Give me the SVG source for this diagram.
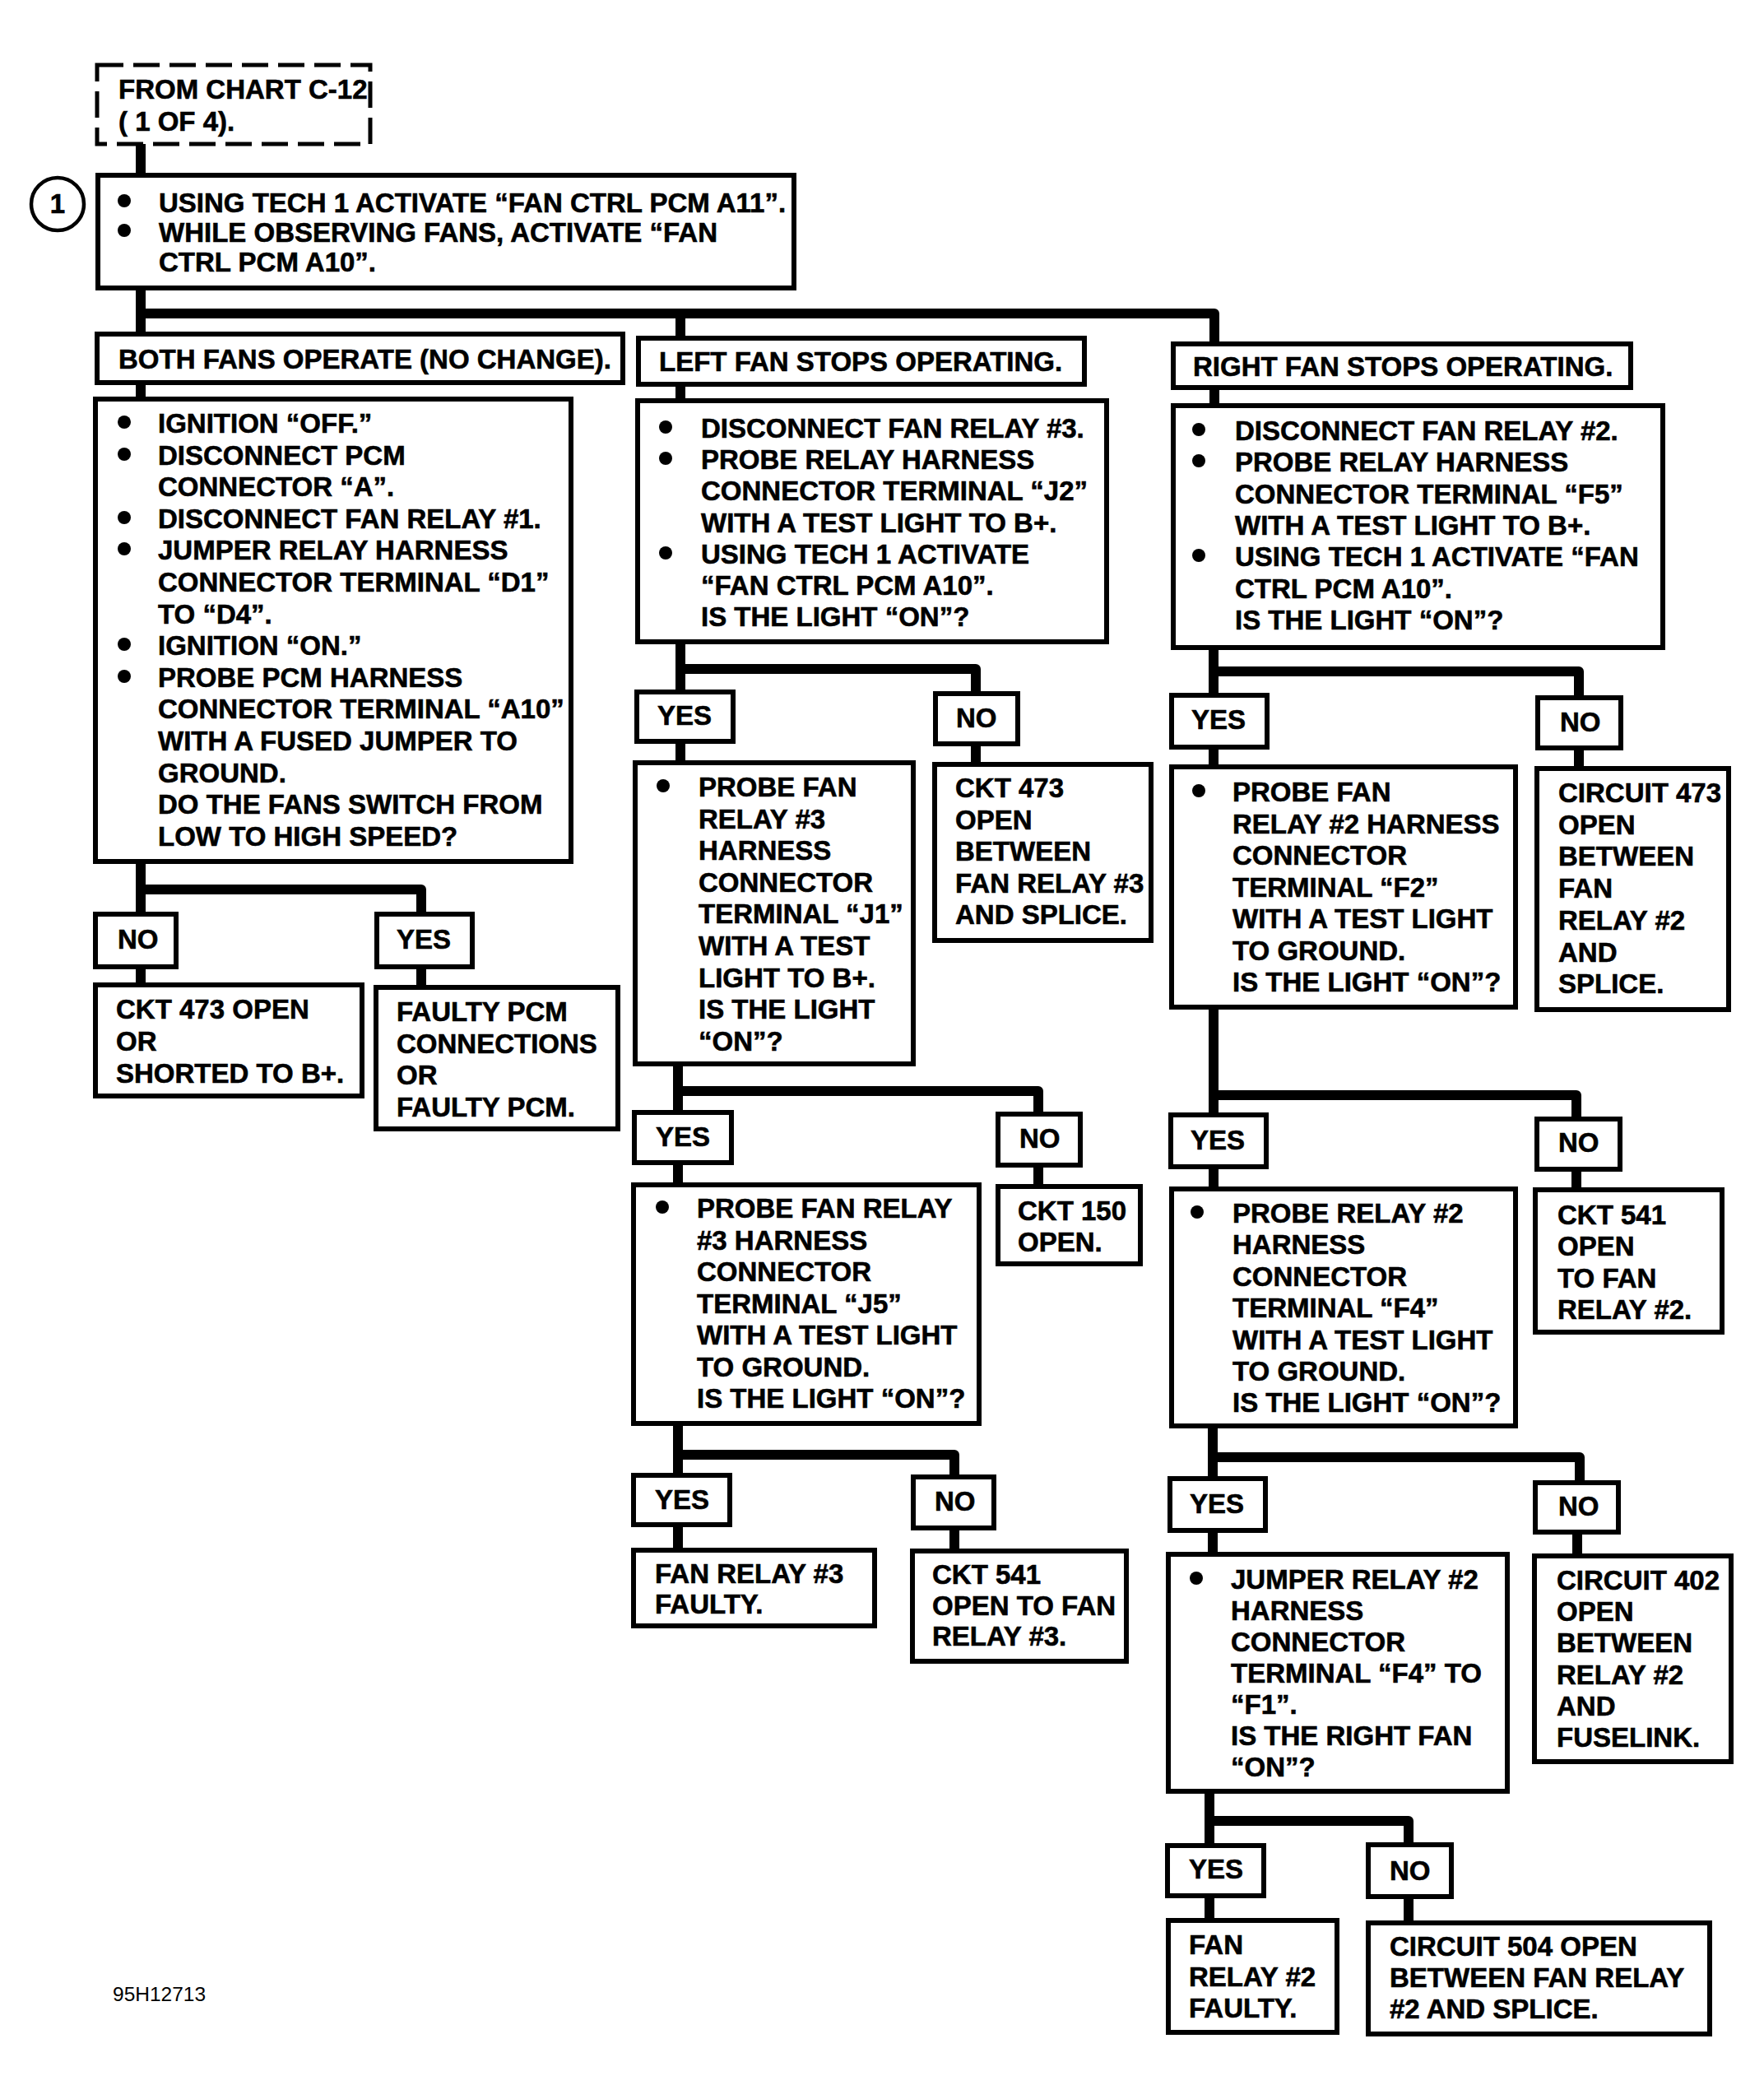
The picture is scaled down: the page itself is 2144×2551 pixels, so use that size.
<svg xmlns="http://www.w3.org/2000/svg" width="2144" height="2551" viewBox="0 0 2144 2551">
<style>
.bx{fill:#fff;stroke:#000;stroke-width:6}
.dash{fill:#fff;stroke:#000;stroke-width:5;stroke-dasharray:32 12}
.c{fill:none;stroke:#000;stroke-width:12;stroke-linejoin:round;stroke-linecap:butt}
.t{font-family:"Liberation Sans",Arial,Helvetica,sans-serif;font-weight:bold;font-size:33px;fill:#000;stroke:#000;stroke-width:0.6}
.lbl{font-family:"Liberation Sans",Arial,Helvetica,sans-serif;font-size:24.5px;fill:#000}
.b{fill:#000}
</style>
<rect width="2144" height="2551" fill="#fff"/>

<g id="connectors">
<path class="c" d="M171,175 V213"/>
<path class="c" d="M171,350 V406 M171,381 H1476 V418 M827,381 V411"/>
<path class="c" d="M171,465 V485 M827,467 V487 M1476,471 V493"/>
<path class="c" d="M171,1047 V1111 M171,1081 H512 V1111 M171,1175 V1197 M512,1175 V1200"/>
<path class="c" d="M827,780 V841 M827,813 H1186 V843 M827,901 V927 M1186,904 V929"/>
<path class="c" d="M824,1293 V1352 M824,1326 H1262 V1354 M824,1413 V1440 M1262,1416 V1442"/>
<path class="c" d="M824,1730 V1793 M824,1768 H1160 V1795 M824,1853 V1884 M1160,1857 V1885"/>
<path class="c" d="M1475,787 V845 M1475,816 H1919 V848 M1475,908 V932 M1919,909 V934"/>
<path class="c" d="M1475,1224 V1355 M1475,1331 H1916 V1360 M1475,1418 V1445 M1916,1421 V1446"/>
<path class="c" d="M1474,1733 V1797 M1474,1771 H1920 V1802 M1474,1860 V1889 M1917,1862 V1891"/>
<path class="c" d="M1470,2177 V2243 M1470,2213 H1712 V2242 M1470,2304 V2334 M1712,2305 V2337"/>
</g>

<g id="start">
<rect class="dash" x="118" y="79" width="332" height="96"/>
<text class="t" x="144" y="120">FROM CHART C-12</text>
<text class="t" x="144" y="159">( 1 OF 4).</text>
</g>

<g id="marker1">
<circle cx="70" cy="248" r="32" fill="#fff" stroke="#000" stroke-width="4.5"/>
<text class="t" x="70" y="259" text-anchor="middle">1</text>
</g>

<g id="step1">
<rect class="bx" x="119" y="213" width="846" height="137"/>
<circle class="b" cx="151" cy="244" r="8"/>
<circle class="b" cx="151" cy="280" r="8"/>
<text class="t" x="193" y="258">USING TECH 1 ACTIVATE “FAN CTRL PCM A11”.</text>
<text class="t" x="193" y="294">WHILE OBSERVING FANS, ACTIVATE “FAN</text>
<text class="t" x="193" y="330">CTRL PCM A10”.</text>
</g>

<g id="both">
<rect class="bx" x="118" y="406" width="639" height="59"/>
<text class="t" x="144" y="448">BOTH FANS OPERATE (NO CHANGE).</text>
</g>

<g id="left">
<rect class="bx" x="776" y="411" width="542" height="56"/>
<text class="t" x="801" y="451">LEFT FAN STOPS OPERATING.</text>
</g>

<g id="right">
<rect class="bx" x="1426" y="418" width="556" height="53"/>
<text class="t" x="1450" y="457">RIGHT FAN STOPS OPERATING.</text>
</g>

<g id="c1box">
<rect class="bx" x="116" y="485" width="578" height="562"/>
<circle class="b" cx="151" cy="513" r="8"/>
<circle class="b" cx="151" cy="552" r="8"/>
<circle class="b" cx="151" cy="629" r="8"/>
<circle class="b" cx="151" cy="667" r="8"/>
<circle class="b" cx="151" cy="783" r="8"/>
<circle class="b" cx="151" cy="822" r="8"/>
<text class="t" x="192" y="526">IGNITION “OFF.”
<tspan x="192" dy="38.6">DISCONNECT PCM</tspan>
<tspan x="192" dy="38.6">CONNECTOR “A”.</tspan>
<tspan x="192" dy="38.6">DISCONNECT FAN RELAY #1.</tspan>
<tspan x="192" dy="38.6">JUMPER RELAY HARNESS</tspan>
<tspan x="192" dy="38.6">CONNECTOR TERMINAL “D1”</tspan>
<tspan x="192" dy="38.6">TO “D4”.</tspan>
<tspan x="192" dy="38.6">IGNITION “ON.”</tspan>
<tspan x="192" dy="38.6">PROBE PCM HARNESS</tspan>
<tspan x="192" dy="38.6">CONNECTOR TERMINAL “A10”</tspan>
<tspan x="192" dy="38.6">WITH A FUSED JUMPER TO</tspan>
<tspan x="192" dy="38.6">GROUND.</tspan>
<tspan x="192" dy="38.6">DO THE FANS SWITCH FROM</tspan>
<tspan x="192" dy="38.6">LOW TO HIGH SPEED?</tspan></text>
</g>

<g id="c1no">
<rect class="bx" x="116" y="1111" width="98" height="64"/>
<text class="t" x="143" y="1153">NO</text>
</g>
<g id="c1yes">
<rect class="bx" x="458" y="1111" width="116" height="64"/>
<text class="t" x="482" y="1153">YES</text>
</g>
<g id="c1ckt">
<rect class="bx" x="116" y="1197" width="324" height="135"/>
<text class="t" x="141" y="1238">CKT 473 OPEN<tspan x="141" dy="39">OR</tspan><tspan x="141" dy="39">SHORTED TO B+.</tspan></text>
</g>
<g id="c1faulty">
<rect class="bx" x="457" y="1200" width="294" height="172"/>
<text class="t" x="482" y="1241">FAULTY PCM<tspan x="482" dy="38.7">CONNECTIONS</tspan><tspan x="482" dy="38.7">OR</tspan><tspan x="482" dy="38.7">FAULTY PCM.</tspan></text>
</g>

<g id="m2">
<rect class="bx" x="775" y="487" width="570" height="293"/>
<circle class="b" cx="809" cy="519" r="8"/>
<circle class="b" cx="809" cy="557" r="8"/>
<circle class="b" cx="809" cy="672" r="8"/>
<text class="t" x="852" y="532">DISCONNECT FAN RELAY #3.<tspan x="852" dy="38.2">PROBE RELAY HARNESS</tspan><tspan x="852" dy="38.2">CONNECTOR TERMINAL “J2”</tspan><tspan x="852" dy="38.2">WITH A TEST LIGHT TO B+.</tspan><tspan x="852" dy="38.2">USING TECH 1 ACTIVATE</tspan><tspan x="852" dy="38.2">“FAN CTRL PCM A10”.</tspan><tspan x="852" dy="38.2">IS THE LIGHT “ON”?</tspan></text>
</g>
<g id="myes1">
<rect class="bx" x="774" y="841" width="117" height="60"/>
<text class="t" x="799" y="881">YES</text>
</g>
<g id="mno1">
<rect class="bx" x="1137" y="843" width="100" height="61"/>
<text class="t" x="1162" y="884">NO</text>
</g>
<g id="m3">
<rect class="bx" x="772" y="927" width="338" height="366"/>
<circle class="b" cx="806" cy="955" r="8"/>
<text class="t" x="849" y="968">PROBE FAN<tspan x="849" dy="38.6">RELAY #3</tspan><tspan x="849" dy="38.6">HARNESS</tspan><tspan x="849" dy="38.6">CONNECTOR</tspan><tspan x="849" dy="38.6">TERMINAL “J1”</tspan><tspan x="849" dy="38.6">WITH A TEST</tspan><tspan x="849" dy="38.6">LIGHT TO B+.</tspan><tspan x="849" dy="38.6">IS THE LIGHT</tspan><tspan x="849" dy="38.6">“ON”?</tspan></text>
</g>
<g id="mckt473">
<rect class="bx" x="1136" y="929" width="263" height="214"/>
<text class="t" x="1161" y="969">CKT 473<tspan x="1161" dy="38.6">OPEN</tspan><tspan x="1161" dy="38.6">BETWEEN</tspan><tspan x="1161" dy="38.6">FAN RELAY #3</tspan><tspan x="1161" dy="38.6">AND SPLICE.</tspan></text>
</g>
<g id="myes2">
<rect class="bx" x="771" y="1352" width="118" height="61"/>
<text class="t" x="797" y="1393">YES</text>
</g>
<g id="mno2">
<rect class="bx" x="1213" y="1354" width="100" height="62"/>
<text class="t" x="1239" y="1395">NO</text>
</g>
<g id="m4">
<rect class="bx" x="770" y="1440" width="420" height="290"/>
<circle class="b" cx="805" cy="1467" r="8"/>
<text class="t" x="847" y="1480">PROBE FAN RELAY<tspan x="847" dy="38.5">#3 HARNESS</tspan><tspan x="847" dy="38.5">CONNECTOR</tspan><tspan x="847" dy="38.5">TERMINAL “J5”</tspan><tspan x="847" dy="38.5">WITH A TEST LIGHT</tspan><tspan x="847" dy="38.5">TO GROUND.</tspan><tspan x="847" dy="38.5">IS THE LIGHT “ON”?</tspan></text>
</g>
<g id="mckt150">
<rect class="bx" x="1213" y="1442" width="173" height="94"/>
<text class="t" x="1237" y="1483">CKT 150<tspan x="1237" dy="38">OPEN.</tspan></text>
</g>
<g id="myes3">
<rect class="bx" x="770" y="1793" width="117" height="60"/>
<text class="t" x="796" y="1834">YES</text>
</g>
<g id="mno3">
<rect class="bx" x="1110" y="1795" width="98" height="62"/>
<text class="t" x="1136" y="1836">NO</text>
</g>
<g id="mfaulty">
<rect class="bx" x="770" y="1884" width="293" height="92"/>
<text class="t" x="796" y="1924">FAN RELAY #3<tspan x="796" dy="37">FAULTY.</tspan></text>
</g>
<g id="mckt541">
<rect class="bx" x="1109" y="1885" width="260" height="134"/>
<text class="t" x="1133" y="1925">CKT 541<tspan x="1133" dy="37.5">OPEN TO FAN</tspan><tspan x="1133" dy="37.5">RELAY #3.</tspan></text>
</g>

<g id="r2">
<rect class="bx" x="1426" y="493" width="595" height="294"/>
<circle class="b" cx="1457" cy="522" r="8"/>
<circle class="b" cx="1457" cy="560" r="8"/>
<circle class="b" cx="1457" cy="675" r="8"/>
<text class="t" x="1501" y="535">DISCONNECT FAN RELAY #2.<tspan x="1501" dy="38.3">PROBE RELAY HARNESS</tspan><tspan x="1501" dy="38.3">CONNECTOR TERMINAL “F5”</tspan><tspan x="1501" dy="38.3">WITH A TEST LIGHT TO B+.</tspan><tspan x="1501" dy="38.3">USING TECH 1 ACTIVATE “FAN</tspan><tspan x="1501" dy="38.3">CTRL PCM A10”.</tspan><tspan x="1501" dy="38.3">IS THE LIGHT “ON”?</tspan></text>
</g>
<g id="ryes1">
<rect class="bx" x="1424" y="845" width="116" height="63"/>
<text class="t" x="1448" y="886">YES</text>
</g>
<g id="rno1">
<rect class="bx" x="1869" y="848" width="101" height="61"/>
<text class="t" x="1896" y="889">NO</text>
</g>
<g id="r3">
<rect class="bx" x="1424" y="932" width="418" height="292"/>
<circle class="b" cx="1457" cy="961" r="8"/>
<text class="t" x="1498" y="974">PROBE FAN<tspan x="1498" dy="38.5">RELAY #2 HARNESS</tspan><tspan x="1498" dy="38.5">CONNECTOR</tspan><tspan x="1498" dy="38.5">TERMINAL “F2”</tspan><tspan x="1498" dy="38.5">WITH A TEST LIGHT</tspan><tspan x="1498" dy="38.5">TO GROUND.</tspan><tspan x="1498" dy="38.5">IS THE LIGHT “ON”?</tspan></text>
</g>
<g id="rc473">
<rect class="bx" x="1868" y="934" width="233" height="293"/>
<text class="t" x="1894" y="975">CIRCUIT 473<tspan x="1894" dy="38.7">OPEN</tspan><tspan x="1894" dy="38.7">BETWEEN</tspan><tspan x="1894" dy="38.7">FAN</tspan><tspan x="1894" dy="38.7">RELAY #2</tspan><tspan x="1894" dy="38.7">AND</tspan><tspan x="1894" dy="38.7">SPLICE.</tspan></text>
</g>
<g id="ryes2">
<rect class="bx" x="1423" y="1355" width="116" height="63"/>
<text class="t" x="1447" y="1397">YES</text>
</g>
<g id="rno2">
<rect class="bx" x="1868" y="1360" width="101" height="61"/>
<text class="t" x="1894" y="1400">NO</text>
</g>
<g id="r4">
<rect class="bx" x="1424" y="1445" width="418" height="288"/>
<circle class="b" cx="1455" cy="1473" r="8"/>
<text class="t" x="1498" y="1486">PROBE RELAY #2<tspan x="1498" dy="38.4">HARNESS</tspan><tspan x="1498" dy="38.4">CONNECTOR</tspan><tspan x="1498" dy="38.4">TERMINAL “F4”</tspan><tspan x="1498" dy="38.4">WITH A TEST LIGHT</tspan><tspan x="1498" dy="38.4">TO GROUND.</tspan><tspan x="1498" dy="38.4">IS THE LIGHT “ON”?</tspan></text>
</g>
<g id="rckt541">
<rect class="bx" x="1866" y="1446" width="227" height="173"/>
<text class="t" x="1893" y="1488">CKT 541<tspan x="1893" dy="38.3">OPEN</tspan><tspan x="1893" dy="38.3">TO FAN</tspan><tspan x="1893" dy="38.3">RELAY #2.</tspan></text>
</g>
<g id="ryes3">
<rect class="bx" x="1422" y="1797" width="116" height="63"/>
<text class="t" x="1446" y="1839">YES</text>
</g>
<g id="rno3">
<rect class="bx" x="1866" y="1802" width="101" height="60"/>
<text class="t" x="1894" y="1842">NO</text>
</g>
<g id="r5">
<rect class="bx" x="1420" y="1889" width="412" height="288"/>
<circle class="b" cx="1454" cy="1918" r="8"/>
<text class="t" x="1496" y="1931">JUMPER RELAY #2<tspan x="1496" dy="38">HARNESS</tspan><tspan x="1496" dy="38">CONNECTOR</tspan><tspan x="1496" dy="38">TERMINAL “F4” TO</tspan><tspan x="1496" dy="38">“F1”.</tspan><tspan x="1496" dy="38">IS THE RIGHT FAN</tspan><tspan x="1496" dy="38">“ON”?</tspan></text>
</g>
<g id="rc402">
<rect class="bx" x="1865" y="1891" width="239" height="250"/>
<text class="t" x="1892" y="1932">CIRCUIT 402<tspan x="1892" dy="38.2">OPEN</tspan><tspan x="1892" dy="38.2">BETWEEN</tspan><tspan x="1892" dy="38.2">RELAY #2</tspan><tspan x="1892" dy="38.2">AND</tspan><tspan x="1892" dy="38.2">FUSELINK.</tspan></text>
</g>
<g id="ryes4">
<rect class="bx" x="1419" y="2243" width="117" height="61"/>
<text class="t" x="1445" y="2283">YES</text>
</g>
<g id="rno4">
<rect class="bx" x="1663" y="2242" width="101" height="63"/>
<text class="t" x="1689" y="2285">NO</text>
</g>
<g id="rfaulty">
<rect class="bx" x="1420" y="2334" width="205" height="136"/>
<text class="t" x="1445" y="2375">FAN<tspan x="1445" dy="38.5">RELAY #2</tspan><tspan x="1445" dy="38.5">FAULTY.</tspan></text>
</g>
<g id="rc504">
<rect class="bx" x="1663" y="2337" width="415" height="135"/>
<text class="t" x="1689" y="2377">CIRCUIT 504 OPEN<tspan x="1689" dy="38">BETWEEN FAN RELAY</tspan><tspan x="1689" dy="38">#2 AND SPLICE.</tspan></text>
</g>

<text class="lbl" x="137" y="2432">95H12713</text>
</svg>
